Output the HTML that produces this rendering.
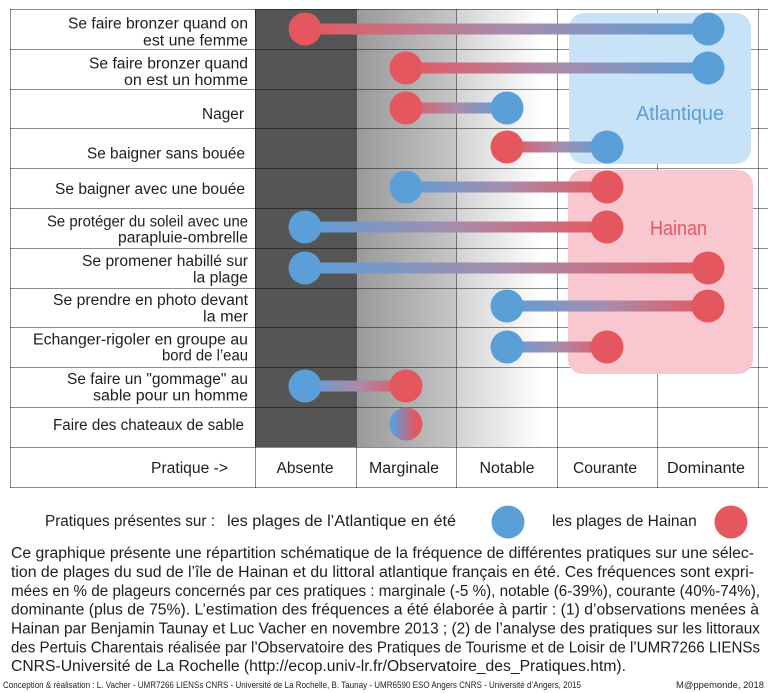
<!DOCTYPE html>
<html><head><meta charset="utf-8"><style>
html,body{margin:0;padding:0;background:#fff;}
svg{display:block;}
text{font-family:"Liberation Sans",Arial,sans-serif;fill:#1e1e1e;}
</style></head><body>
<svg width="768" height="693" viewBox="0 0 768 693" xmlns="http://www.w3.org/2000/svg">
<defs>
<linearGradient id="gm" x1="0" y1="0" x2="1" y2="0"><stop offset="0" stop-color="#999"/><stop offset="1" stop-color="#c6c6c6"/></linearGradient>
<linearGradient id="gn" x1="0" y1="0" x2="1" y2="0"><stop offset="0" stop-color="#d2d2d2"/><stop offset="0.85" stop-color="#fff"/></linearGradient>
<linearGradient id="b1" gradientUnits="userSpaceOnUse" x1="305" y1="0" x2="708" y2="0"><stop offset="0" stop-color="#e5575f"/><stop offset="0.5" stop-color="#a88cab"/><stop offset="1" stop-color="#5b9fd9"/></linearGradient>
<linearGradient id="b2" gradientUnits="userSpaceOnUse" x1="406" y1="0" x2="708" y2="0"><stop offset="0" stop-color="#e5575f"/><stop offset="0.5" stop-color="#a88cab"/><stop offset="1" stop-color="#5b9fd9"/></linearGradient>
<linearGradient id="b3" gradientUnits="userSpaceOnUse" x1="406" y1="0" x2="507" y2="0"><stop offset="0" stop-color="#e5575f"/><stop offset="0.5" stop-color="#a88cab"/><stop offset="1" stop-color="#5b9fd9"/></linearGradient>
<linearGradient id="b4" gradientUnits="userSpaceOnUse" x1="507" y1="0" x2="607" y2="0"><stop offset="0" stop-color="#e5575f"/><stop offset="0.5" stop-color="#a88cab"/><stop offset="1" stop-color="#5b9fd9"/></linearGradient>
<linearGradient id="b5" gradientUnits="userSpaceOnUse" x1="406" y1="0" x2="607" y2="0"><stop offset="0" stop-color="#5b9fd9"/><stop offset="0.5" stop-color="#a88cab"/><stop offset="1" stop-color="#e5575f"/></linearGradient>
<linearGradient id="b6" gradientUnits="userSpaceOnUse" x1="305" y1="0" x2="607" y2="0"><stop offset="0" stop-color="#5b9fd9"/><stop offset="0.5" stop-color="#a88cab"/><stop offset="1" stop-color="#e5575f"/></linearGradient>
<linearGradient id="b7" gradientUnits="userSpaceOnUse" x1="305" y1="0" x2="708" y2="0"><stop offset="0" stop-color="#5b9fd9"/><stop offset="0.5" stop-color="#a88cab"/><stop offset="1" stop-color="#e5575f"/></linearGradient>
<linearGradient id="b8" gradientUnits="userSpaceOnUse" x1="507" y1="0" x2="708" y2="0"><stop offset="0" stop-color="#5b9fd9"/><stop offset="0.5" stop-color="#a88cab"/><stop offset="1" stop-color="#e5575f"/></linearGradient>
<linearGradient id="b9" gradientUnits="userSpaceOnUse" x1="507" y1="0" x2="607" y2="0"><stop offset="0" stop-color="#5b9fd9"/><stop offset="0.5" stop-color="#a88cab"/><stop offset="1" stop-color="#e5575f"/></linearGradient>
<linearGradient id="b10" gradientUnits="userSpaceOnUse" x1="305" y1="0" x2="406" y2="0"><stop offset="0" stop-color="#5b9fd9"/><stop offset="0.5" stop-color="#a88cab"/><stop offset="1" stop-color="#e5575f"/></linearGradient>
<linearGradient id="b11" x1="0" y1="0" x2="1" y2="0"><stop offset="0.1" stop-color="#5b9fd9"/><stop offset="0.8" stop-color="#e5575f"/></linearGradient>
</defs>

<!-- background columns -->
<rect x="255" y="9" width="101" height="438" fill="#555"/>
<rect x="356" y="9" width="100" height="438" fill="url(#gm)"/>
<rect x="456" y="9" width="101" height="438" fill="url(#gn)"/>

<!-- grid -->
<g stroke="#000" stroke-opacity="0.45" stroke-width="1" fill="none">
<line x1="10" y1="9.5" x2="768" y2="9.5"/>
<line x1="10" y1="49.5" x2="768" y2="49.5"/>
<line x1="10" y1="89.5" x2="768" y2="89.5"/>
<line x1="10" y1="128.5" x2="768" y2="128.5"/>
<line x1="10" y1="168.5" x2="768" y2="168.5"/>
<line x1="10" y1="208.5" x2="768" y2="208.5"/>
<line x1="10" y1="248.5" x2="768" y2="248.5"/>
<line x1="10" y1="288.5" x2="768" y2="288.5"/>
<line x1="10" y1="327.5" x2="768" y2="327.5"/>
<line x1="10" y1="367.5" x2="768" y2="367.5"/>
<line x1="10" y1="407.5" x2="768" y2="407.5"/>
<line x1="10" y1="447.5" x2="768" y2="447.5"/>
<line x1="10" y1="487.5" x2="768" y2="487.5"/>
<line x1="10.5" y1="9" x2="10.5" y2="488"/>
<line x1="255.5" y1="9" x2="255.5" y2="488"/>
<line x1="356.5" y1="9" x2="356.5" y2="488"/>
<line x1="456.5" y1="9" x2="456.5" y2="488"/>
<line x1="557.5" y1="9" x2="557.5" y2="488"/>
<line x1="657.5" y1="9" x2="657.5" y2="488"/>
<line x1="758.5" y1="9" x2="758.5" y2="488"/>
</g>

<!-- region boxes -->
<rect x="569" y="13" width="182" height="151" rx="15" fill="#c8e2f7"/>
<rect x="568" y="170" width="185" height="204" rx="15" fill="#f8c7cf"/>
<text x="636" y="120" font-size="20" textLength="88" lengthAdjust="spacingAndGlyphs" style="fill:#5b9fd9">Atlantique</text>
<text x="650" y="235" font-size="20" textLength="57" lengthAdjust="spacingAndGlyphs" style="fill:#e5575f">Hainan</text>

<!-- bars -->
<g stroke-width="11">
<line x1="305" y1="29" x2="708" y2="29" stroke="url(#b1)"/>
<line x1="406" y1="68" x2="708" y2="68" stroke="url(#b2)"/>
<line x1="406" y1="108" x2="507" y2="108" stroke="url(#b3)"/>
<line x1="507" y1="147" x2="607" y2="147" stroke="url(#b4)"/>
<line x1="406" y1="187" x2="607" y2="187" stroke="url(#b5)"/>
<line x1="305" y1="227" x2="607" y2="227" stroke="url(#b6)"/>
<line x1="305" y1="268" x2="708" y2="268" stroke="url(#b7)"/>
<line x1="507" y1="306" x2="708" y2="306" stroke="url(#b8)"/>
<line x1="507" y1="347" x2="607" y2="347" stroke="url(#b9)"/>
<line x1="305" y1="386" x2="406" y2="386" stroke="url(#b10)"/>
</g>

<!-- circles -->
<g>
<circle cx="305" cy="29" r="16.5" fill="#e5575f"/><circle cx="708" cy="29" r="16.5" fill="#5b9fd9"/>
<circle cx="406" cy="68" r="16.5" fill="#e5575f"/><circle cx="708" cy="68" r="16.5" fill="#5b9fd9"/>
<circle cx="406" cy="108" r="16.5" fill="#e5575f"/><circle cx="507" cy="108" r="16.5" fill="#5b9fd9"/>
<circle cx="507" cy="147" r="16.5" fill="#e5575f"/><circle cx="607" cy="147" r="16.5" fill="#5b9fd9"/>
<circle cx="406" cy="187" r="16.5" fill="#5b9fd9"/><circle cx="607" cy="187" r="16.5" fill="#e5575f"/>
<circle cx="305" cy="227" r="16.5" fill="#5b9fd9"/><circle cx="607" cy="227" r="16.5" fill="#e5575f"/>
<circle cx="305" cy="268" r="16.5" fill="#5b9fd9"/><circle cx="708" cy="268" r="16.5" fill="#e5575f"/>
<circle cx="507" cy="306" r="16.5" fill="#5b9fd9"/><circle cx="708" cy="306" r="16.5" fill="#e5575f"/>
<circle cx="507" cy="347" r="16.5" fill="#5b9fd9"/><circle cx="607" cy="347" r="16.5" fill="#e5575f"/>
<circle cx="305" cy="386" r="16.5" fill="#5b9fd9"/><circle cx="406" cy="386" r="16.5" fill="#e5575f"/>
<circle cx="406" cy="424" r="16.5" fill="url(#b11)"/>
</g>

<!-- row labels -->
<g font-size="15.5" text-anchor="end">
<text x="248" y="28.3" textLength="180" lengthAdjust="spacingAndGlyphs">Se faire bronzer quand on</text>
<text x="248" y="45.3" textLength="105" lengthAdjust="spacingAndGlyphs">est une femme</text>
<text x="248" y="68.3" textLength="159" lengthAdjust="spacingAndGlyphs">Se faire bronzer quand</text>
<text x="248" y="85" textLength="124" lengthAdjust="spacingAndGlyphs">on est un homme</text>
<text x="244" y="119" textLength="42" lengthAdjust="spacingAndGlyphs">Nager</text>
<text x="245" y="158.3" textLength="158" lengthAdjust="spacingAndGlyphs">Se baigner sans bouée</text>
<text x="245" y="194" textLength="190" lengthAdjust="spacingAndGlyphs">Se baigner avec une bouée</text>
<text x="248" y="226.7" textLength="201" lengthAdjust="spacingAndGlyphs">Se protéger du soleil avec une</text>
<text x="248" y="242.7" textLength="130" lengthAdjust="spacingAndGlyphs">parapluie-ombrelle</text>
<text x="248" y="266" textLength="166" lengthAdjust="spacingAndGlyphs">Se promener habillé sur</text>
<text x="248" y="282.7" textLength="55" lengthAdjust="spacingAndGlyphs">la plage</text>
<text x="248" y="305" textLength="195" lengthAdjust="spacingAndGlyphs">Se prendre en photo devant</text>
<text x="248" y="321.7" textLength="45" lengthAdjust="spacingAndGlyphs">la mer</text>
<text x="248" y="344.3" textLength="215" lengthAdjust="spacingAndGlyphs">Echanger-rigoler en groupe au</text>
<text x="248" y="360.7" textLength="86" lengthAdjust="spacingAndGlyphs">bord de l’eau</text>
<text x="248" y="384" textLength="181" lengthAdjust="spacingAndGlyphs">Se faire un "gommage" au</text>
<text x="248" y="400.3" textLength="155" lengthAdjust="spacingAndGlyphs">sable pour un homme</text>
<text x="244" y="430" textLength="191" lengthAdjust="spacingAndGlyphs">Faire des chateaux de sable</text>
<text x="228" y="473" textLength="77" lengthAdjust="spacingAndGlyphs">Pratique -&gt;</text>
</g>
<g font-size="15.5" text-anchor="middle">
<text x="305" y="473" textLength="57" lengthAdjust="spacingAndGlyphs">Absente</text>
<text x="404" y="473" textLength="70" lengthAdjust="spacingAndGlyphs">Marginale</text>
<text x="507" y="473" textLength="55" lengthAdjust="spacingAndGlyphs">Notable</text>
<text x="605" y="473" textLength="64" lengthAdjust="spacingAndGlyphs">Courante</text>
<text x="706" y="473" textLength="78" lengthAdjust="spacingAndGlyphs">Dominante</text>
</g>

<!-- legend -->
<g font-size="15.5">
<text x="45" y="526" textLength="170" lengthAdjust="spacingAndGlyphs">Pratiques présentes sur :</text>
<text x="227" y="526" textLength="229" lengthAdjust="spacingAndGlyphs">les plages de l’Atlantique en été</text>
<text x="552" y="526">les plages de Hainan</text>
</g>
<circle cx="508" cy="522" r="16.5" fill="#5b9fd9"/>
<circle cx="731" cy="522" r="16.5" fill="#e5575f"/>

<!-- paragraph -->
<g font-size="15.5">
<text x="11" y="558" textLength="743" lengthAdjust="spacingAndGlyphs">Ce graphique présente une répartition schématique de la fréquence de différentes pratiques sur une sélec-</text>
<text x="11" y="577" textLength="743" lengthAdjust="spacingAndGlyphs">tion de plages du sud de l’île de Hainan et du littoral atlantique français en été. Ces fréquences sont expri-</text>
<text x="11" y="596" textLength="749" lengthAdjust="spacingAndGlyphs">mées en % de plageurs concernés par ces pratiques : marginale (-5 %), notable (6-39%), courante (40%-74%),</text>
<text x="11" y="614.5" textLength="748" lengthAdjust="spacingAndGlyphs">dominante (plus de 75%). L’estimation des fréquences a été élaborée à partir : (1) d’observations menées à</text>
<text x="11" y="633.5" textLength="749" lengthAdjust="spacingAndGlyphs">Hainan par Benjamin Taunay et Luc Vacher en novembre 2013 ; (2) de l’analyse des pratiques sur les littoraux</text>
<text x="11" y="652.5" textLength="749" lengthAdjust="spacingAndGlyphs">des Pertuis Charentais réalisée par l’Observatoire des Pratiques de Tourisme et de Loisir de l’UMR7266 LIENSs</text>
<text x="11" y="671" textLength="615" lengthAdjust="spacingAndGlyphs">CNRS-Université de La Rochelle (http://ecop.univ-lr.fr/Observatoire_des_Pratiques.htm).</text>
</g>

<!-- footer -->
<g font-size="9.5" style="font-family:'Liberation Sans Narrow','Liberation Sans',sans-serif">
<text x="3" y="688" textLength="578" lengthAdjust="spacingAndGlyphs">Conception &amp; réalisation :  L. Vacher - UMR7266 LIENSs CNRS - Université de La Rochelle, B. Taunay -  UMR6590 ESO Angers CNRS - Université d’Angers, 2015</text>
<text x="676" y="688" textLength="88" lengthAdjust="spacingAndGlyphs">M@ppemonde, 2018</text>
</g>
</svg>
</body></html>
